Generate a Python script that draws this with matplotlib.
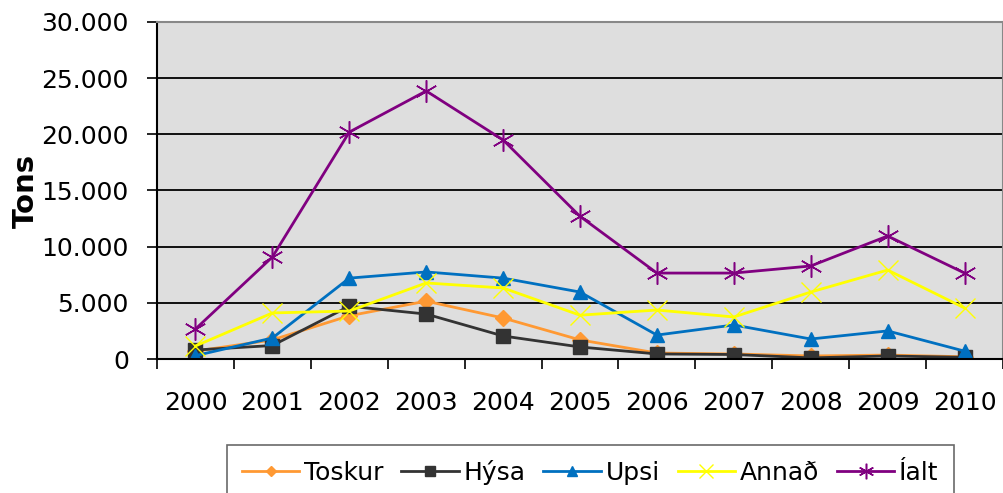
import matplotlib
matplotlib.use('Agg')
import matplotlib.pyplot as plt
import numpy as np
from matplotlib.ticker import FuncFormatter, MultipleLocator

years = ['2000', '2001', '2002', '2003', '2004', '2005', '2006', '2007', '2008', '2009', '2010']
toskur = [700, 1700, 3850, 5150, 3650, 1700, 530, 450, 270, 350, 200]
hysa = [800, 1200, 4700, 4000, 2050, 1070, 450, 400, 100, 270, 150]
upsi = [300, 1870, 7200, 7750, 7200, 5960, 2130, 3030, 1780, 2500, 700]
annad = [1160, 4100, 4270, 6770, 6320, 3900, 4360, 3740, 5960, 7920, 4540]
ialt = [2670, 9080, 20200, 23860, 19500, 12700, 7650, 7650, 8280, 10950, 7650]

# name, values, colour, marker, size, edge width
series = [
    ('Toskur', toskur, '#FF9933', 'D', 8, 1.0),
    ('Hýsa', hysa, '#333333', 's', 10, 1.0),
    ('Upsi', upsi, '#0070C0', '^', 10, 1.0),
    ('Annað', annad, '#FFFF00', 'x', 14, 1.0),
    ('Íalt', ialt, '#800080', (6, 2, 0), 16, 1.1),
]

fig = plt.figure(figsize=(10.04, 4.93), dpi=100)
ax = fig.add_axes([0.1564, 0.2718, 0.8426, 0.6836])
ax.set_facecolor('#DEDEDE')

x = np.arange(len(years))
for name, vals, col, mk, ms, mew in series:
    ax.plot(x, vals, color=col, linewidth=2.0, marker=mk, markersize=ms,
            markeredgewidth=mew, label=name)

ax.set_xlim(-0.5, len(years) - 0.5)
ax.set_ylim(0, 30000)
ax.yaxis.set_major_locator(MultipleLocator(5000))
ax.yaxis.set_major_formatter(FuncFormatter(lambda v, p: f'{int(v):,}'.replace(',', '.')))
ax.grid(axis='y', color='black', linewidth=1.3)
ax.set_axisbelow(True)

ax.set_xticks(x)
ax.set_xticklabels(years)
ax.set_xticks(np.arange(-0.5, len(years)), minor=True)
ax.tick_params(axis='x', which='major', length=0, pad=23, labelsize=18)
ax.tick_params(axis='x', which='minor', length=7.2, width=1.2, direction='out')
ax.tick_params(axis='y', length=7.2, width=1.2, labelsize=18, pad=13)

for s in ['top', 'right']:
    ax.spines[s].set_color('#888888')
    ax.spines[s].set_linewidth(1.5)
ax.spines['left'].set_color('black')
ax.spines['left'].set_linewidth(1.5)
ax.spines['bottom'].set_color('black')
ax.spines['bottom'].set_linewidth(1.5)

ax.set_ylabel('Tons', fontsize=21, fontweight='bold')
ax.yaxis.set_label_coords(-0.138, 0.5)

leg = fig.legend(loc='upper center', bbox_to_anchor=(0.588, 0.0974), ncol=5,
                 frameon=True, fancybox=False, fontsize=18, handlelength=2.3,
                 handletextpad=0.2, columnspacing=0.7, borderpad=0.6,
                 borderaxespad=0, markerscale=0.7)
leg.get_frame().set_edgecolor('#444444')
leg.get_frame().set_linewidth(1.2)

fig.savefig('out.png', dpi=100)
